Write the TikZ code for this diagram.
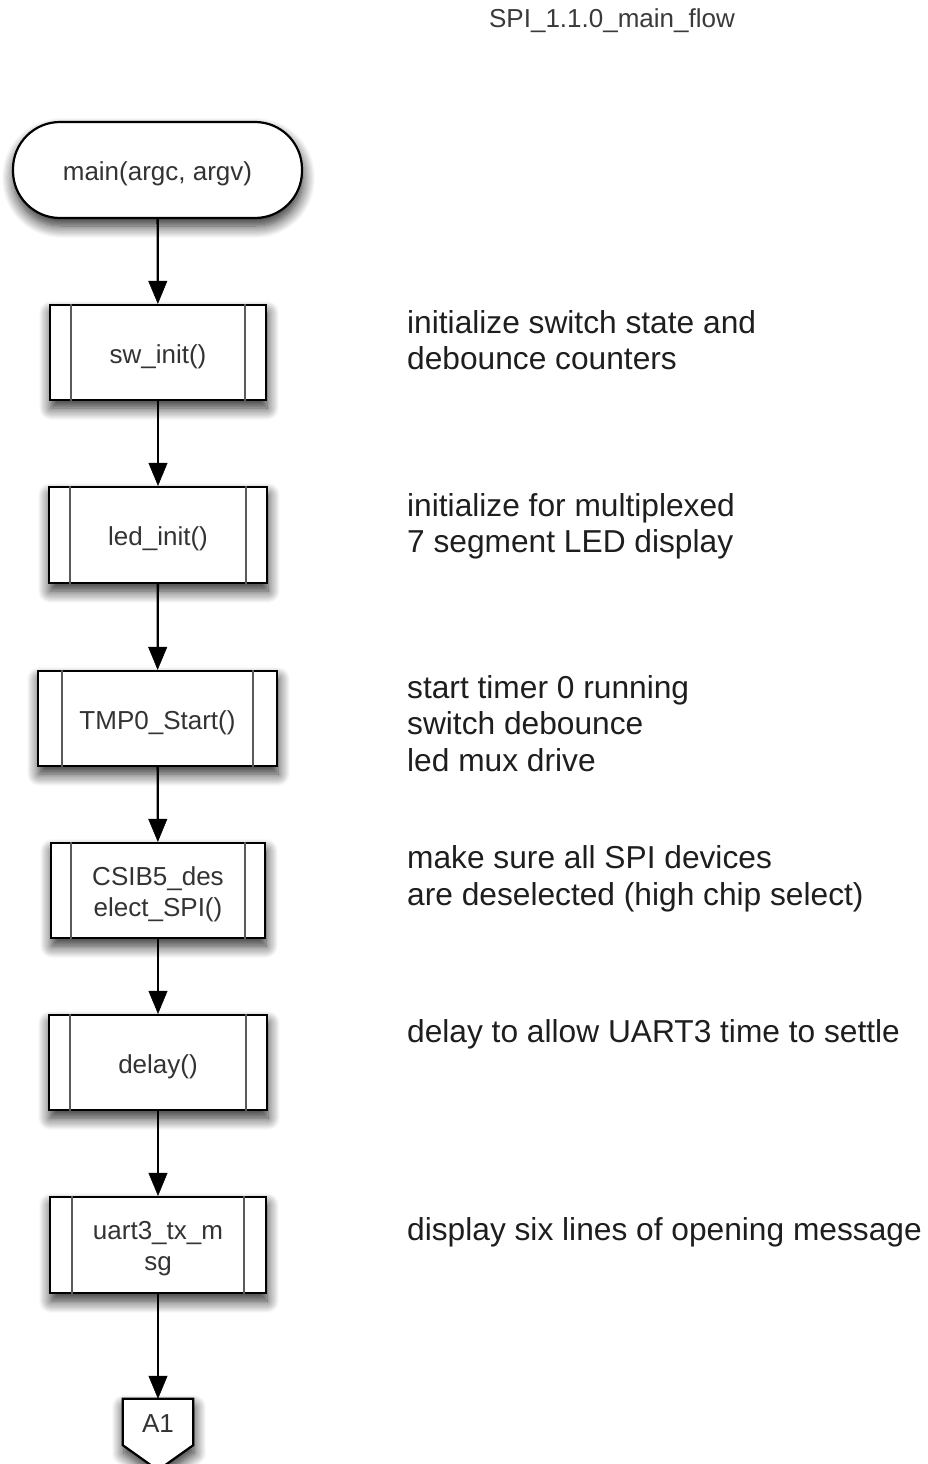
\documentclass[tikz,border=0pt]{standalone}
\usepackage{fontspec}
\setmainfont{Liberation Sans}
\usetikzlibrary{arrows.meta,shadows.blur}

\definecolor{boxtext}{HTML}{333333}
\definecolor{notetext}{HTML}{1E1E1E}
\definecolor{innerline}{HTML}{5A5A5A}
\definecolor{titletext}{HTML}{3A3A3A}

\newcommand\boxfont{\fontsize{26}{31}\selectfont}
\newcommand\notefont{\fontsize{31.7}{36.5}\selectfont}
\newcommand\titlefont{\fontsize{26}{31}\selectfont}

\begin{document}
\begin{tikzpicture}[x=1pt,y=-1pt,
  flowline/.style={line width=2.3pt,
      -{Triangle[length=23pt,width=19pt,fill=black,line width=0.5pt]}},
  softshadow/.style={blur shadow={shadow xshift=1pt,shadow yshift=-8pt,
      shadow blur radius=12pt,shadow blur steps=12,shadow opacity=85}},
  terminal/.style={draw,line width=2.2pt,fill=white,rounded corners=47pt,
      minimum width=289pt,minimum height=96pt,inner sep=0pt,softshadow},
  procbox/.style={draw,line width=2.2pt,fill=white,minimum height=95pt,
      inner sep=0pt,softshadow},
  boxlabel/.style={inner sep=0pt,align=center,font=\boxfont,text=boxtext},
  note/.style={anchor=base west,inner sep=0pt,align=left,
      font=\notefont,text=notetext},
  sideline/.style={line width=2pt,draw=innerline}
]
\useasboundingbox (0,0) rectangle (928,1464);

% title
\node[anchor=base,inner sep=0pt,font=\titlefont,text=titletext] (title)
  at (612,28) {SPI\_1.1.0\_main\_flow};

% start terminal
\node[terminal] (main) at (157.5,170) {};
\node[boxlabel] (mainlabel) at ([yshift=-4pt]main.center) {main(argc, argv)};

% predefined-process boxes
\node[procbox,minimum width=216pt] (sw)    at (158,352.5)  {};
\node[procbox,minimum width=218pt,minimum height=96pt] (led) at (158,535) {};
\node[procbox,minimum width=239pt] (tmp)   at (157.5,718.5) {};
\node[procbox,minimum width=214pt] (csib)  at (158,890.5)  {};
\node[procbox,minimum width=218pt] (delay) at (158,1062.5) {};
\node[procbox,minimum width=216pt,minimum height=96pt] (uart) at (158,1245) {};

% inner side bars of the process boxes
\foreach \b/\o in {sw/22,led/22,tmp/25,csib/21,delay/22,uart/23}{
  \draw[sideline] ([xshift=\o pt]\b.north west) -- ([xshift=\o pt]\b.south west);
  \draw[sideline] ([xshift=-\o pt]\b.north east) -- ([xshift=-\o pt]\b.south east);
}

% box captions
\node[boxlabel] (swlabel)    at ([yshift=-4pt]sw.center)    {sw\_init()};
\node[boxlabel] (ledlabel)   at ([yshift=-4pt]led.center)   {led\_init()};
\node[boxlabel] (tmplabel)   at ([yshift=-4pt]tmp.center)   {TMP0\_Start()};
\node[boxlabel] (csiblabel)  at ([yshift=-4pt]csib.center)  {CSIB5\_des\\elect\_SPI()};
\node[boxlabel] (delaylabel) at ([yshift=-4pt]delay.center) {delay()};
\node[boxlabel] (uartlabel)  at ([yshift=-4pt]uart.center)  {uart3\_tx\_m\\sg};

% off-page connector
\node[minimum width=70pt,minimum height=46pt,inner sep=0pt] (a1) at (158,1422) {};
\path[draw,line width=2.2pt,fill=white,softshadow]
  (a1.north west) -- (a1.north east) -- (a1.south east)
  -- ([yshift=-25pt]a1.south) -- (a1.south west) -- cycle;
\node[boxlabel] (a1label) at ([yshift=-2pt]a1.center) {A1};

% flow connectors
\draw[flowline] (main) -- (sw);
\draw[flowline] (sw) -- (led);
\draw[flowline] (led) -- (tmp);
\draw[flowline] (tmp) -- (csib);
\draw[flowline] (csib) -- (delay);
\draw[flowline] (delay) -- (uart);
\draw[flowline] (uart) -- (a1);

% annotations (anchored at the baseline of their last line)
\node[note] (nsw)    at (407,369.5) {initialize switch state and\\debounce counters};
\node[note] (nled)   at (407,552.5) {initialize for multiplexed\\7 segment LED display};
\node[note] (ntmp)   at (407,771)   {start timer 0 running\\switch debounce\\led mux drive};
\node[note] (ncsib)  at (407,905)   {make sure all SPI devices\\are deselected (high chip select)};
\node[note] (ndelay) at (407,1042)  {delay to allow UART3 time to settle};
\node[note] (nuart)  at (407,1240)  {display six lines of opening message};
\end{tikzpicture}
\end{document}
